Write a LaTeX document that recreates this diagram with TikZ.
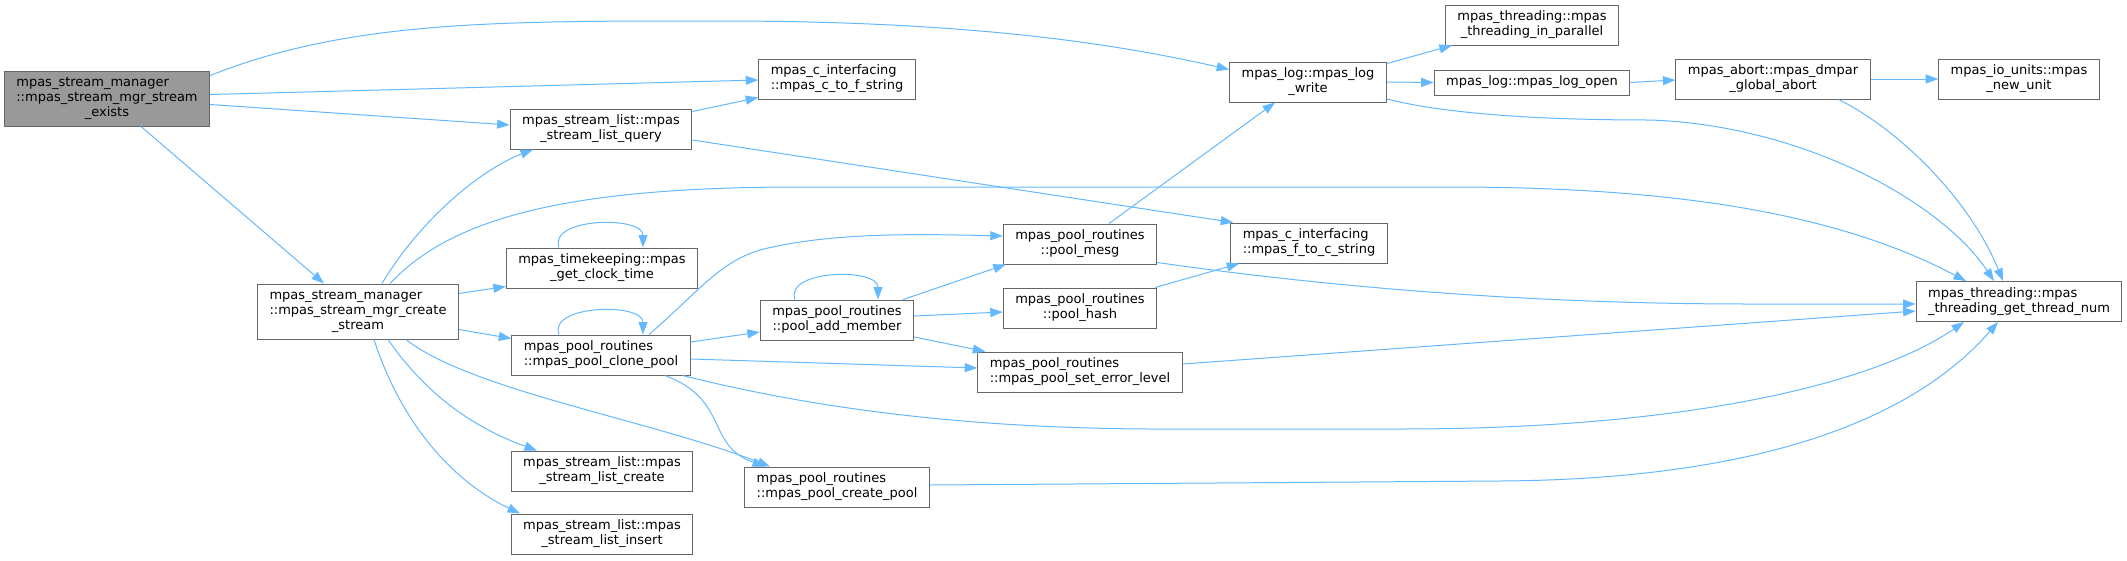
\documentclass[tikz,border=0pt]{standalone}
\usepackage{fontspec}
\setmainfont{DejaVu Sans}
\usepackage{xcolor}
\usetikzlibrary{arrows.meta,positioning}
\definecolor{edgeblue}{HTML}{63B8FF}
\definecolor{boxgray}{HTML}{666666}
\definecolor{rootgray}{HTML}{999999}
\newcommand{\fnlbl}[2]{\begin{tabular}{@{}l@{}}#1\\\multicolumn{1}{@{}c@{}}{#2}\end{tabular}}

\begin{document}
\begin{tikzpicture}[x=1pt, y=-1pt,
    fn/.style={draw=boxgray, fill=white, line width=1pt, inner xsep=12pt, inner ysep=5pt, font=\fontsize{13}{15}\selectfont},
    fnroot/.style={fn, fill=rootgray},
    call/.style={draw=edgeblue, line width=1pt, -{Triangle[length=12.5pt,width=9pt]}}]
    \useasboundingbox (0,0) rectangle (2127,560);

    % Functions
    \node[fnroot] (exists) at (107,98.5) {\fnlbl{mpas\_stream\_manager\\::mpas\_stream\_mgr\_stream}{\_exists}};
    \node[fn] (create_stream) at (358,311.5) {\fnlbl{mpas\_stream\_manager\\::mpas\_stream\_mgr\_create}{\_stream}};
    \node[fn] (query) at (601,129) {\fnlbl{mpas\_stream\_list::mpas}{\_stream\_list\_query}};
    \node[fn] (timekeeping) at (602,268) {\fnlbl{mpas\_timekeeping::mpas}{\_get\_clock\_time}};
    \node[fn] (clone_pool) at (601,355) {\fnlbl{mpas\_pool\_routines}{::mpas\_pool\_clone\_pool}};
    \node[fn] (list_create) at (602,471) {\fnlbl{mpas\_stream\_list::mpas}{\_stream\_list\_create}};
    \node[fn] (list_insert) at (602,534) {\fnlbl{mpas\_stream\_list::mpas}{\_stream\_list\_insert}};
    \node[fn] (c_to_f) at (837,79) {\fnlbl{mpas\_c\_interfacing}{::mpas\_c\_to\_f\_string}};
    \node[fn] (add_member) at (837,320) {\fnlbl{mpas\_pool\_routines}{::pool\_add\_member}};
    \node[fn] (create_pool) at (837,487) {\fnlbl{mpas\_pool\_routines}{::mpas\_pool\_create\_pool}};
    \node[fn] (pool_mesg) at (1080,244) {\fnlbl{mpas\_pool\_routines}{::pool\_mesg}};
    \node[fn] (pool_hash) at (1080,308) {\fnlbl{mpas\_pool\_routines}{::pool\_hash}};
    \node[fn] (set_error) at (1080,372) {\fnlbl{mpas\_pool\_routines}{::mpas\_pool\_set\_error\_level}};
    \node[fn] (log_write) at (1308,82) {\fnlbl{mpas\_log::mpas\_log}{\_write}};
    \node[fn] (f_to_c) at (1309,243) {\fnlbl{mpas\_c\_interfacing}{::mpas\_f\_to\_c\_string}};
    \node[fn] (in_parallel) at (1532,25) {\fnlbl{mpas\_threading::mpas}{\_threading\_in\_parallel}};
    \node[fn] (log_open) at (1532,82.5) {\begin{tabular}{@{}c@{}}mpas\_log::mpas\_log\_open\end{tabular}};
    \node[fn] (dmpar) at (1773,79) {\fnlbl{mpas\_abort::mpas\_dmpar}{\_global\_abort}};
    \node[fn] (io_units) at (2019,79) {\fnlbl{mpas\_io\_units::mpas}{\_new\_unit}};
    \node[fn] (thread_num) at (2019,301.5) {\fnlbl{mpas\_threading::mpas}{\_threading\_get\_thread\_num}};

    % Calls from the root
    \draw[call] ([yshift=-5pt]exists.north east) .. controls (350,20) and (500,21) .. (720,21) .. controls (950,21) and (1100,40) .. ([yshift=-8pt]log_write.north west);
    \draw[call] ([yshift=4pt]exists.east) -- ([yshift=-1pt]c_to_f.west);
    \draw[call] ([yshift=-6pt]exists.east) -- ([yshift=4pt]query.west);
    \draw[call] ([xshift=34pt]exists.south) -- ([xshift=-34pt]create_stream.north);

    % Calls from create_stream
    \draw[call] ([xshift=24pt]create_stream.north) .. controls (420,220) and (480,170) .. ([xshift=-68pt]query.south);
    \draw[call] ([xshift=32pt]create_stream.north) .. controls (450,220) and (560,187) .. (800,187) -- (1450,187) .. controls (1700,187) and (1850,220) .. ([xshift=-53pt]thread_num.north);
    \draw[call] ([yshift=18pt]create_stream.east) -- ([yshift=2pt]timekeeping.south west);
    \draw[call] ([yshift=-18pt]create_stream.east) -- ([yshift=-4pt]clone_pool.north west);
    \draw[call] ([xshift=30pt]create_stream.south) .. controls (430,400) and (480,430) .. ([xshift=-65pt]list_create.north);
    \draw[call] ([xshift=16pt]create_stream.south) .. controls (400,420) and (450,480) .. ([xshift=-82pt]list_insert.north);
    \draw[call] ([xshift=48pt]create_stream.south) .. controls (470,390) and (650,420) .. ([xshift=-67pt]create_pool.north);

    % Recursive calls
    \draw[call] ([xshift=-43pt]timekeeping.north) .. controls +(-11,-30) and +(0,-32) .. ([xshift=41pt]timekeeping.north);
    \draw[call] ([xshift=-42pt]clone_pool.north) .. controls +(-11,-30) and +(0,-32) .. ([xshift=42pt]clone_pool.north);
    \draw[call] ([xshift=-42pt]add_member.north) .. controls +(-11,-30) and +(0,-32) .. ([xshift=41pt]add_member.north);

    % Calls from clone_pool
    \draw[call] ([xshift=48pt]clone_pool.north) .. controls (700,290) and (720,262) .. (760,250) .. controls (830,232) and (920,234) .. ([yshift=8pt]pool_mesg.west);
    \draw[call] ([yshift=13pt]clone_pool.east) -- ([yshift=-12pt]add_member.west);
    \draw[call] ([yshift=-4pt]clone_pool.east) -- ([yshift=4pt]set_error.west);
    \draw[call] ([xshift=-8pt]clone_pool.south east) .. controls (800,405) and (950,428) .. (1150,429) -- (1400,429) .. controls (1700,429) and (1880,380) .. ([xshift=-55pt]thread_num.south);
    \draw[call] ([xshift=64pt]clone_pool.south) .. controls (730,400) and (705,445) .. ([xshift=-72pt]create_pool.north);

    % Calls from add_member
    \draw[call] ([xshift=-11pt]add_member.north east) -- ([xshift=3pt]pool_mesg.south west);
    \draw[call] ([yshift=4pt]add_member.east) -- ([yshift=-4pt]pool_hash.west);
    \draw[call] ([yshift=-17pt]add_member.east) -- ([xshift=8pt]set_error.north west);

    % Other calls
    \draw[call] ([yshift=-3pt]query.north east) -- ([yshift=2pt]c_to_f.south west);
    \draw[call] ([yshift=-11pt]query.east) -- ([xshift=3pt]f_to_c.north west);
    \draw[call] ([xshift=29pt]pool_mesg.north) -- ([xshift=-33pt]log_write.south);
    \draw[call] ([yshift=2pt]pool_mesg.south east) .. controls (1350,290) and (1550,304) .. (1750,304) -- ([yshift=-2.5pt]thread_num.west);
    \draw[call] ([xshift=-2pt]pool_hash.north east) -- ([xshift=9pt]f_to_c.south west);
    \draw[call] ([yshift=8pt]set_error.east) -- ([yshift=-9.5pt]thread_num.west);
    \draw[call] ([yshift=2pt]create_pool.east) -- (1500,481) .. controls (1800,479) and (1930,400) .. ([xshift=-21pt]thread_num.south);

    % Calls from log_write
    \draw[call] ([yshift=-2pt]log_write.north east) -- ([xshift=7pt]in_parallel.south west);
    \draw[call] (log_write.east) -- (log_open.west);
    \draw[call] ([yshift=-17pt]log_write.east) .. controls (1450,115) and (1550,120) .. (1650,120) .. controls (1800,125) and (1940,200) .. ([xshift=-25pt]thread_num.north);
    \draw[call] (log_open.east) -- ([yshift=-1pt]dmpar.west);
    \draw[call] (dmpar.east) -- (io_units.west);
    \draw[call] ([xshift=-32pt]dmpar.south east) .. controls (1900,130) and (1970,200) .. ([xshift=-16pt]thread_num.north);
\end{tikzpicture}
\end{document}
